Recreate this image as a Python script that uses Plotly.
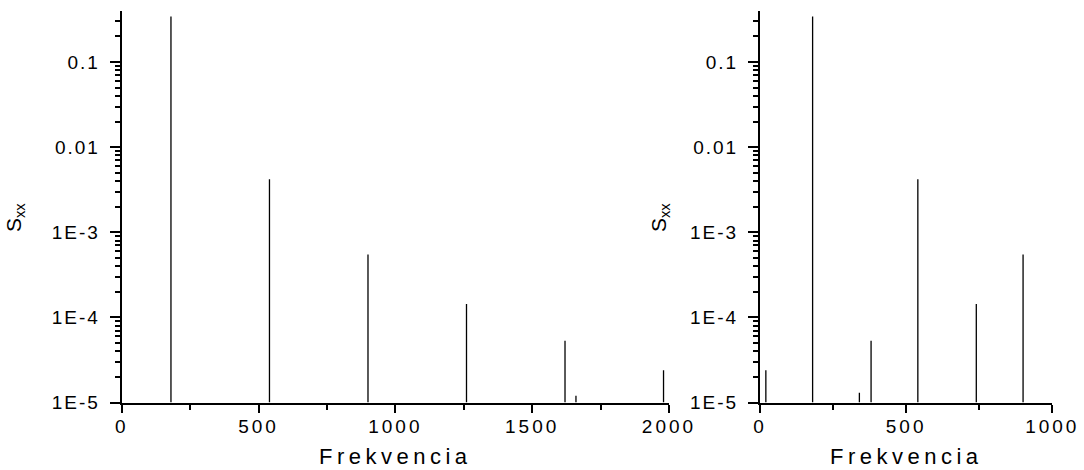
import plotly.graph_objects as go

# Spectral lines: full band (0-2000) and folded band (0-1000)
full_freq = [180, 540, 900, 1260, 1620, 1660, 1980]
full_sxx = [0.344, 4.2e-3, 5.5e-4, 1.44e-4, 5.3e-5, 1.2e-5, 2.4e-5]

folded_freq = [20, 180, 340, 380, 540, 740, 900]
folded_sxx = [2.4e-5, 0.344, 1.3e-5, 5.3e-5, 4.2e-3, 1.44e-4, 5.5e-4]

y_tickvals = [1e-5, 1e-4, 1e-3, 0.01, 0.1]
y_ticktext = ["1E-5", "1E-4", "1E-3", "0.01", "0.1"]
x_full_ticks = [0, 500, 1000, 1500, 2000]
x_folded_ticks = [0, 500, 1000]
floor_value = 1e-5

W, H = 1084, 470
FONT = "Liberation Sans, Arial, sans-serif"


def spaced(s, sp=3):
    return f"<span style='letter-spacing:{sp}px'>{s}</span>"


def stems(freqs, vals):
    xs, ys = [], []
    for f, v in zip(freqs, vals):
        xs += [f, f, None]
        ys += [floor_value, v, None]
    return xs, ys


fig = go.Figure()
for (fr, vv), xa, ya in [((full_freq, full_sxx), "x", "y"),
                         ((folded_freq, folded_sxx), "x2", "y2")]:
    xs, ys = stems(fr, vv)
    fig.add_trace(go.Scatter(x=xs, y=ys, mode="lines", xaxis=xa, yaxis=ya,
                             line=dict(color="black", width=1.3),
                             showlegend=False, hoverinfo="skip"))

minor_y = [k * 10 ** n for n in range(-5, 0) for k in range(2, 10)] + [0.2, 0.3, 0.4]

y_top_px, y_bot_px = 11, 402.5
ydom = [(H - y_bot_px) / H, (H - y_top_px) / H]

common_y = dict(
    type="log", range=[-5, -0.4], domain=ydom,
    showline=True, linecolor="black", linewidth=2, mirror=False,
    showgrid=False, zeroline=False,
    ticks="outside", ticklen=10, tickwidth=2, tickcolor="black",
    tickmode="array", tickvals=y_tickvals,
    ticktext=[spaced(t, 2) for t in y_ticktext],
    tickfont=dict(family=FONT, size=19, color="black"),
    ticklabelstandoff=6,
    minor=dict(tickmode="array", tickvals=minor_y, ticks="outside",
               ticklen=5, tickwidth=2, tickcolor="black", showgrid=False),
    automargin=False,
)
common_x = dict(
    showline=True, linecolor="black", linewidth=2, mirror=False,
    showgrid=False, zeroline=False,
    ticks="outside", ticklen=8, tickwidth=2, tickcolor="black",
    tickmode="array",
    tickfont=dict(family=FONT, size=19, color="black"),
    ticklabelstandoff=-2,
    minor=dict(dtick=250, ticks="outside", ticklen=5, tickwidth=2,
               tickcolor="black", showgrid=False),
    automargin=False,
)

x1 = [121.7 / W, 669 / W]
x2 = [760 / W, 1052.3 / W]

fig.update_layout(
    width=W, height=H,
    margin=dict(l=0, r=0, t=0, b=0),
    paper_bgcolor="white", plot_bgcolor="white",
    font=dict(family=FONT, color="black"),
    xaxis=dict(common_x, domain=x1, range=[0, 2000], anchor="y",
               tickvals=x_full_ticks,
               ticktext=[spaced(str(t), 3) for t in x_full_ticks]),
    yaxis=dict(common_y, anchor="x"),
    xaxis2=dict(common_x, domain=x2, range=[0, 1000], anchor="y2",
                tickvals=x_folded_ticks,
                ticktext=[spaced(str(t), 3) for t in x_folded_ticks]),
    yaxis2=dict(common_y, anchor="x2"),
)

# Axis titles
title_y = (H - 456) / H
sxx_y = (H - 218) / H
for xc in [(x1[0] + x1[1]) / 2, (x2[0] + x2[1]) / 2]:
    fig.add_annotation(x=xc, y=title_y, xref="paper", yref="paper",
                       text=spaced("Frekvencia", 4.5), showarrow=False,
                       font=dict(family=FONT, size=22, color="black"),
                       xanchor="center", yanchor="middle")
for xs in [15 / W, 660 / W]:
    fig.add_annotation(x=xs, y=sxx_y, xref="paper", yref="paper",
                       text="S<sub>xx</sub>", showarrow=False, textangle=-90,
                       font=dict(family=FONT, size=21, color="black"),
                       xanchor="center", yanchor="middle")

fig.write_html("out.html")
